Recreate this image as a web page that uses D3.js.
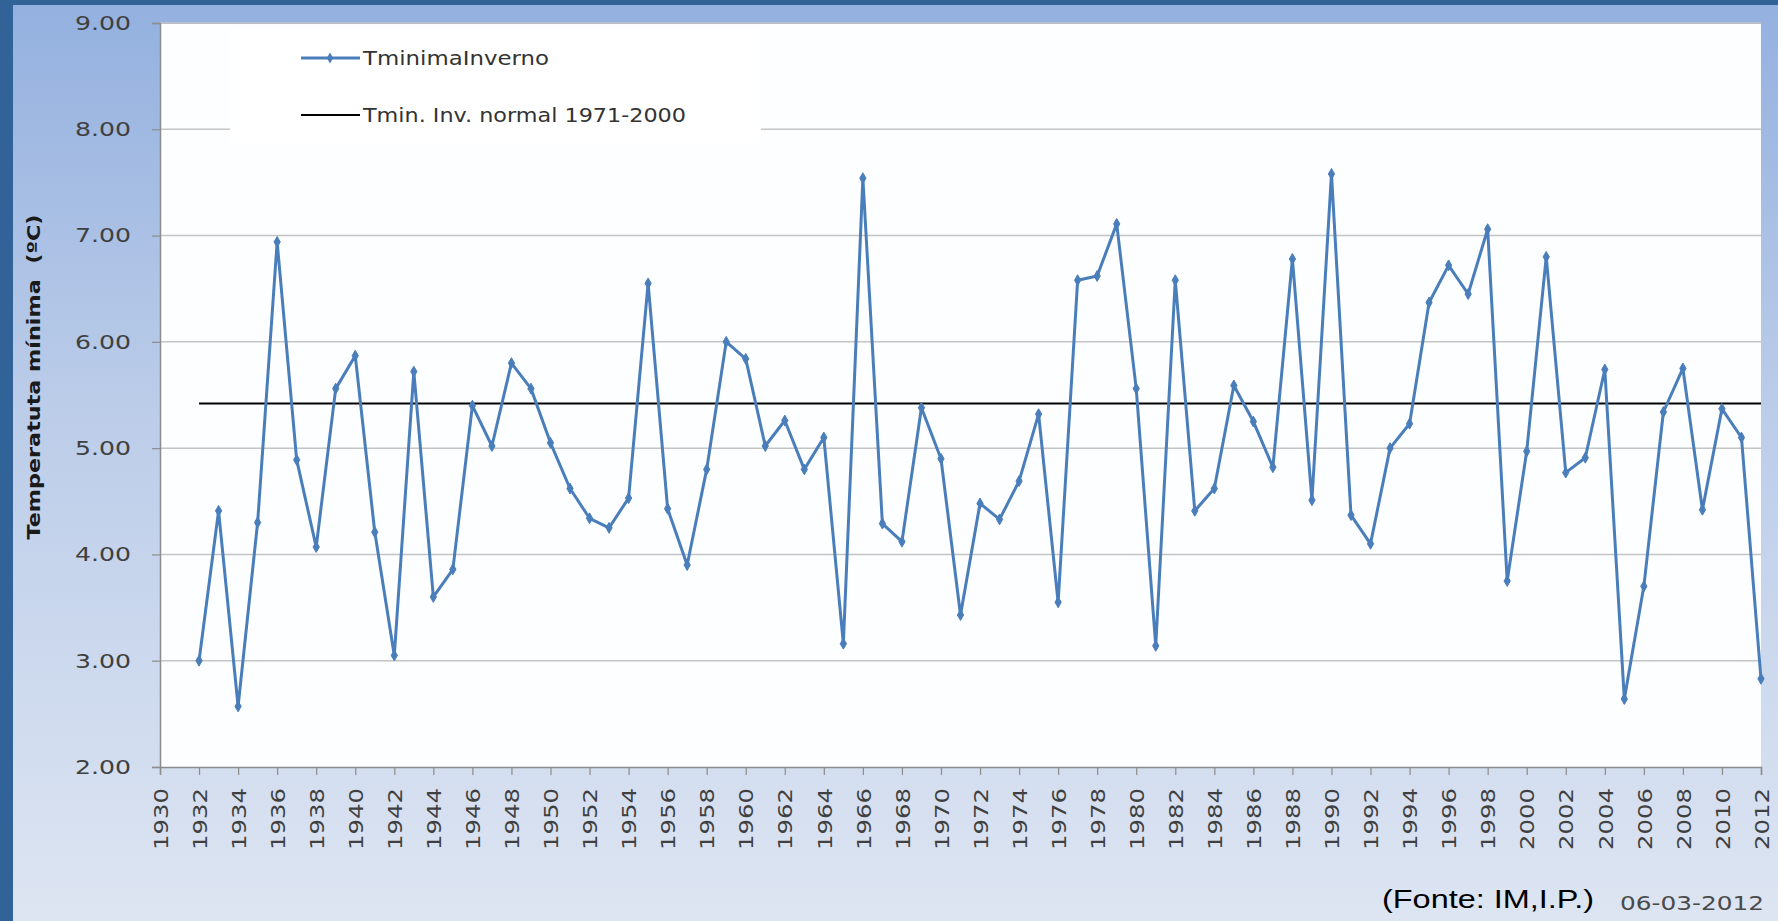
<!DOCTYPE html>
<html>
<head>
<meta charset="utf-8">
<script src="https://cdn.jsdelivr.net/npm/d3@7"></script>
<style>
  body { margin: 0; background: #ffffff; }
  svg { display: block; }
  text { white-space: pre; }
</style>
</head>
<body>
<script>
// data
var years = [1932, 1933, 1934, 1935, 1936, 1937, 1938, 1939, 1940, 1941,
             1942, 1943, 1944, 1945, 1946, 1947, 1948, 1949, 1950, 1951,
             1952, 1953, 1954, 1955, 1956, 1957, 1958, 1959, 1960, 1961,
             1962, 1963, 1964, 1965, 1966, 1967, 1968, 1969, 1970, 1971,
             1972, 1973, 1974, 1975, 1976, 1977, 1978, 1979, 1980, 1981,
             1982, 1983, 1984, 1985, 1986, 1987, 1988, 1989, 1990, 1991,
             1992, 1993, 1994, 1995, 1996, 1997, 1998, 1999, 2000, 2001,
             2002, 2003, 2004, 2005, 2006, 2007, 2008, 2009, 2010, 2011, 2012];

var tminInverno = [3.00, 4.41, 2.57, 4.30, 6.94, 4.89, 4.07, 5.56, 5.87, 4.21,
                   3.05, 5.72, 3.60, 3.86, 5.40, 5.02, 5.80, 5.56, 5.05, 4.62,
                   4.34, 4.25, 4.53, 6.55, 4.43, 3.90, 4.80, 6.00, 5.84, 5.02,
                   5.26, 4.80, 5.10, 3.16, 7.54, 4.29, 4.12, 5.38, 4.90, 3.43,
                   4.48, 4.33, 4.69, 5.32, 3.55, 6.58, 6.62, 7.11, 5.56, 3.14,
                   6.58, 4.41, 4.62, 5.59, 5.25, 4.82, 6.78, 4.51, 7.58, 4.37,
                   4.10, 5.00, 5.23, 6.37, 6.72, 6.45, 7.06, 3.75, 4.97, 6.80,
                   4.77, 4.91, 5.74, 2.64, 3.70, 5.34, 5.75, 4.42, 5.37, 5.10, 2.83];

var normalYears = [1932, 2012];
var normalValue = 5.42;

var xTickLabels = [1930, 1932, 1934, 1936, 1938, 1940, 1942, 1944, 1946, 1948,
                   1950, 1952, 1954, 1956, 1958, 1960, 1962, 1964, 1966, 1968,
                   1970, 1972, 1974, 1976, 1978, 1980, 1982, 1984, 1986, 1988,
                   1990, 1992, 1994, 1996, 1998, 2000, 2002, 2004, 2006, 2008,
                   2010, 2012];
var yTickLabels = [2, 3, 4, 5, 6, 7, 8, 9];

var seriesNames = ["TminimaInverno", "Tmin. Inv. normal 1971-2000"];

//Define size
var W = 1778, H = 921;
var plotLeft = 160, plotRight = 1761, plotTop = 23, plotBottom = 767;

var svg = d3.select("body")
    .append("svg")
    .attr("width", W)
    .attr("height", H);

// background gradient
var defs = svg.append("defs");
var grad = defs.append("linearGradient")
    .attr("id", "bg")
    .attr("x1", 0).attr("y1", 0).attr("x2", 0).attr("y2", 1);
grad.append("stop").attr("offset", "0%").attr("stop-color", "#93b0df");
grad.append("stop").attr("offset", "45%").attr("stop-color", "#bccde9");
grad.append("stop").attr("offset", "100%").attr("stop-color", "#dde5f2");

svg.append("rect")
    .attr("width", W).attr("height", H)
    .style("fill", "url(#bg)");
svg.append("rect")
    .attr("width", W).attr("height", 5)
    .style("fill", "#316398");
svg.append("rect")
    .attr("width", 13).attr("height", H)
    .style("fill", "#316398");

//Define Scales
var xScale = d3.scaleLinear().domain([1930, 2012]).range([plotLeft, plotRight]);
var yScale = d3.scaleLinear().domain([2, 9]).range([plotBottom, plotTop]);

// plot area
svg.append("rect")
    .attr("x", plotLeft).attr("y", plotTop + 1)
    .attr("width", plotRight - plotLeft).attr("height", plotBottom - plotTop - 1)
    .style("fill", "#fdfeff");

// gridlines
svg.selectAll(".grid")
    .data(yTickLabels.filter(function(d) { return d > 2; }))
    .enter().append("line")
    .attr("class", "grid")
    .attr("x1", plotLeft).attr("x2", plotRight)
    .attr("y1", function(d) { return yScale(d); })
    .attr("y2", function(d) { return yScale(d); })
    .style("stroke", "#c4c4c4")
    .style("stroke-width", 1.5);

// legend box (hides the gridline behind it)
svg.append("rect")
    .attr("x", 230).attr("y", 30)
    .attr("width", 531).attr("height", 115)
    .style("fill", "#ffffff");

//Define Axis
var xAxis = d3.axisBottom(xScale)
    .tickValues(xTickLabels)
    .tickSize(8)
    .tickFormat(function(d) { return String(d); });
var yAxis = d3.axisLeft(yScale)
    .tickValues(yTickLabels)
    .tickSize(8)
    .tickFormat(d3.format(".2f"));

var gX = svg.append("g")
    .attr("transform", "translate(0," + plotBottom + ")")
    .call(xAxis);
gX.select(".domain").style("stroke", "#8c8c8c").style("stroke-width", 1.5);
gX.selectAll(".tick line").style("stroke", "#8c8c8c").style("stroke-width", 1.2);
gX.selectAll(".tick text")
    .attr("transform", "translate(0,21) rotate(-90)")
    .attr("x", 0).attr("y", 0).attr("dy", "0.36em")
    .style("text-anchor", "end")
    .attr("font-family", "DejaVu Sans")
    .attr("font-size", 20)
    .attr("textLength", 62)
    .attr("lengthAdjust", "spacingAndGlyphs")
    .style("fill", "#404040");

var gY = svg.append("g")
    .attr("transform", "translate(" + plotLeft + ",0)")
    .call(yAxis);
gY.select(".domain").style("stroke", "#8c8c8c").style("stroke-width", 1.5);
gY.selectAll(".tick line").style("stroke", "#8c8c8c").style("stroke-width", 1.2);
gY.selectAll(".tick text")
    .attr("x", -29)
    .attr("font-family", "DejaVu Sans")
    .attr("font-size", 20)
    .attr("textLength", 56)
    .attr("lengthAdjust", "spacingAndGlyphs")
    .style("fill", "#404040");

// y axis title
svg.append("text")
    .attr("transform", "translate(34,377) rotate(-90)")
    .attr("dy", "0.36em")
    .style("text-anchor", "middle")
    .attr("font-family", "DejaVu Sans")
    .attr("font-weight", "bold")
    .attr("font-size", 17)
    .attr("textLength", 325)
    .attr("lengthAdjust", "spacingAndGlyphs")
    .style("fill", "#1a1a1a")
    .text("Temperatuta mínima  (ºC)");

// normal line
svg.append("line")
    .attr("x1", xScale(normalYears[0])).attr("x2", xScale(normalYears[1]))
    .attr("y1", yScale(normalValue)).attr("y2", yScale(normalValue))
    .style("stroke", "#000000")
    .style("stroke-width", 2);

// series line
var points = years.map(function(y, i) { return {year: y, value: tminInverno[i]}; });
var line = d3.line()
    .x(function(d) { return xScale(d.year); })
    .y(function(d) { return yScale(d.value); });

svg.append("path")
    .datum(points)
    .attr("d", line)
    .style("fill", "none")
    .style("stroke", "#4a7ebb")
    .style("stroke-width", 3)
    .style("stroke-linejoin", "round");

var diamond = d3.symbol().type(d3.symbolDiamond).size(34);
svg.selectAll(".dot")
    .data(points)
    .enter().append("path")
    .attr("class", "dot")
    .attr("d", diamond)
    .attr("transform", function(d) { return "translate(" + xScale(d.year) + "," + yScale(d.value) + ")"; })
    .style("fill", "#4a7ebb")
    .style("stroke", "#4a7ebb");

// Legend
svg.append("line")
    .attr("x1", 301).attr("x2", 360).attr("y1", 58).attr("y2", 58)
    .style("stroke", "#4a7ebb").style("stroke-width", 3);
svg.append("path")
    .attr("d", diamond)
    .attr("transform", "translate(330,58)")
    .style("fill", "#4a7ebb");
svg.append("text")
    .attr("x", 363).attr("y", 58).attr("dy", "0.36em")
    .attr("font-family", "DejaVu Sans")
    .attr("font-size", 19)
    .attr("textLength", 186)
    .attr("lengthAdjust", "spacingAndGlyphs")
    .style("fill", "#333333")
    .text(seriesNames[0]);

svg.append("line")
    .attr("x1", 301).attr("x2", 360).attr("y1", 115).attr("y2", 115)
    .style("stroke", "#000000").style("stroke-width", 2);
svg.append("text")
    .attr("x", 363).attr("y", 115).attr("dy", "0.36em")
    .attr("font-family", "DejaVu Sans")
    .attr("font-size", 19)
    .attr("textLength", 323)
    .attr("lengthAdjust", "spacingAndGlyphs")
    .style("fill", "#333333")
    .text(seriesNames[1]);

// source and date
svg.append("text")
    .attr("x", 1382).attr("y", 908)
    .attr("font-family", "Liberation Sans Narrow, Liberation Sans")
    .attr("font-size", 25)
    .attr("textLength", 212)
    .attr("lengthAdjust", "spacingAndGlyphs")
    .style("fill", "#000000")
    .text("(Fonte: IM,I.P.)");

svg.append("text")
    .attr("x", 1620).attr("y", 910)
    .attr("font-family", "DejaVu Sans")
    .attr("font-size", 19)
    .attr("textLength", 144)
    .attr("lengthAdjust", "spacingAndGlyphs")
    .style("fill", "#4a4a4a")
    .text("06-03-2012");
</script>
</body>
</html>
